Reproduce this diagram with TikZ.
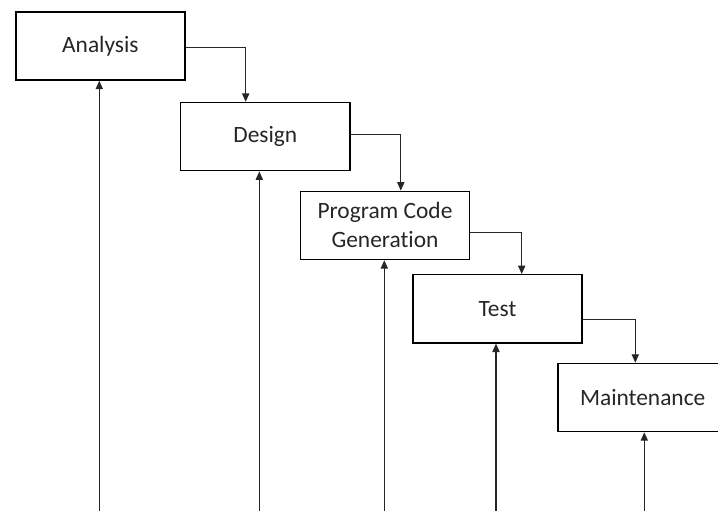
\documentclass[tikz,border=0pt]{standalone}
\usepackage{fontspec}
\setmainfont{Carlito}[Ligatures=NoCommon]
\usetikzlibrary{arrows.meta}

\begin{document}
\begin{tikzpicture}[x=0.5pt, y=-0.5pt,
  phase/.style={draw, line width=0.7pt, minimum width=84.6pt, minimum height=34.1pt,
    inner sep=0pt, align=center, font=\fontsize{11.7}{14.5}\selectfont, text=black!85},
  flow/.style={line width=0.6pt, draw=black!85, -{Triangle[width=3.6pt, length=4.2pt]}}]

\useasboundingbox (0,0) rectangle (718,511);
\clip (0,0) rectangle (718,511);

% the phases
\node[phase] (analysis) at (100.4,45.9) {Analysis};
\node[phase] (design) at (265.3,136.6) {Design};
\node[phase] (code) at (385,225.4) {Program Code\\Generation};
\node[phase] (test) at (497.5,308.8) {Test};
\node[phase] (maint) at (642.7,397.5) {Maintenance};

% steps down
\draw[flow] ([yshift=-0.9pt]analysis.east) -| ([xshift=-9.8pt]design.north);
\draw[flow] ([yshift=1.1pt]design.east) -| ([xshift=7.9pt]code.north);
\draw[flow] ([yshift=-3.5pt]code.east) -| ([xshift=12.1pt]test.north);
\draw[flow] ([yshift=-5.5pt]test.east) -| ([xshift=-3.7pt]maint.north);

% feedback lines from the bottom
\coordinate (b1) at (99.3,511);
\coordinate (b2) at (259.3,511);
\coordinate (b3) at (384.3,511);
\coordinate (b4) at (496,511);
\coordinate (b5) at (644.3,511);

\draw[flow] (b1) -- (b1 |- analysis.south);
\draw[flow] (b2) -- (b2 |- design.south);
\draw[flow] (b3) -- (b3 |- code.south);
\draw[flow] (b4) -- (b4 |- test.south);
\draw[flow] (b5) -- (b5 |- maint.south);

\end{tikzpicture}
\end{document}
